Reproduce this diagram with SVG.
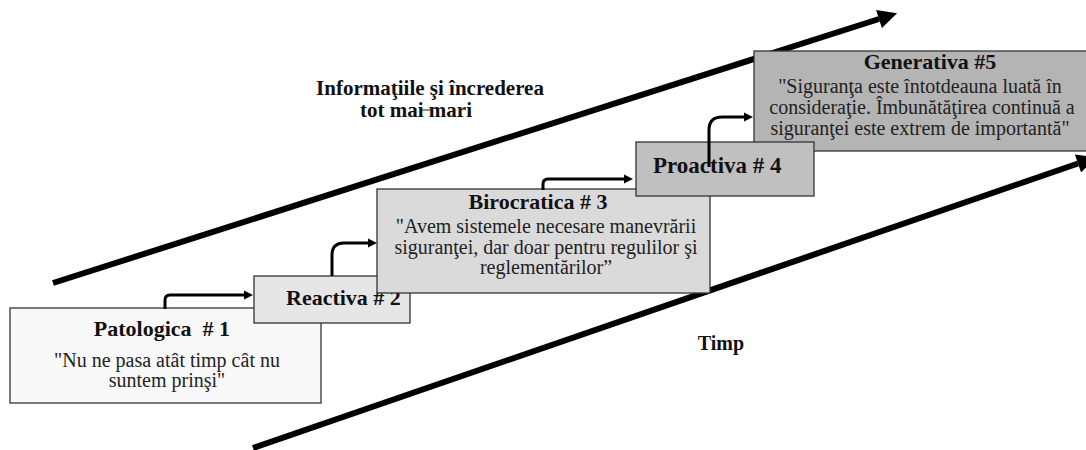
<svg xmlns="http://www.w3.org/2000/svg" width="1086" height="450" viewBox="0 0 1086 450">
<style>
.box{stroke:#333;stroke-width:1.3}
.t{font-family:"Liberation Serif","Times New Roman",serif;font-weight:bold;font-size:22px;fill:#111}
.q{font-family:"Liberation Serif","Times New Roman",serif;font-size:20px;fill:#222;text-anchor:middle}
.lbl{font-family:"Liberation Serif","Times New Roman",serif;font-weight:bold;font-size:21px;fill:#111;text-anchor:middle}
.axis{stroke:#000;stroke-width:6;fill:none}
.conn{stroke:#000;stroke-width:3;fill:none}
</style>
<defs>
<marker id="bigHead" viewBox="0 0 10 10" refX="0" refY="5" markerUnits="userSpaceOnUse" markerWidth="20" markerHeight="19" orient="auto">
<path d="M0,0 L10,5 L0,10 z" fill="#000"/>
</marker>
<marker id="smallHead" viewBox="0 0 10 10" refX="0" refY="5" markerUnits="userSpaceOnUse" markerWidth="9" markerHeight="11" orient="auto">
<path d="M0,0 L10,5 L0,10 z" fill="#000"/>
</marker>
</defs>
<rect width="1086" height="450" fill="#fff"/>
<g id="axes">
<path class="axis" d="M53,283 L879,19" marker-end="url(#bigHead)"/>
<path class="axis" d="M253,448 L1078,163.5" marker-end="url(#bigHead)"/>
</g>
<g id="axis-labels">
<text class="lbl" x="430" y="95">Informaţiile şi încrederea</text>
<text class="lbl" x="416" y="117">tot mai mari</text>
<line x1="420" y1="110" x2="433" y2="110" stroke="#222" stroke-width="1"/>
<text class="lbl" x="721" y="350" style="font-size:20px">Timp</text>
</g>
<g id="node-patologica">
<rect class="box" x="10" y="308" width="311" height="95" fill="#f8f8f8"/>
<text class="t" x="162" y="336" text-anchor="middle" xml:space="preserve">Patologica  # 1</text>
<text class="q" x="167" y="367">"Nu ne pasa atât timp cât nu</text>
<text class="q" x="167" y="387">suntem prinşi"</text>
</g>
<g id="node-reactiva">
<rect class="box" x="254" y="276" width="156" height="47" fill="#e6e6e6"/>
<text class="t" x="286" y="305">Reactiva # 2</text>
</g>
<g id="node-birocratica">
<rect class="box" x="377" y="189" width="333" height="104" fill="#dadada"/>
<text class="t" x="538" y="209" text-anchor="middle">Birocratica # 3</text>
<text class="q" x="546" y="233">"Avem sistemele necesare manevrării</text>
<text class="q" x="546" y="254">siguranţei, dar doar pentru regulilor şi</text>
<text class="q" x="546" y="274">reglementărilor”</text>
</g>
<g id="node-generativa">
<rect class="box" x="754" y="51" width="340" height="100" fill="#b4b4b4"/>
<text class="t" x="930" y="69" text-anchor="middle">Generativa #5</text>
<text class="q" x="920" y="93">"Siguranţa este întotdeauna luată în</text>
<text class="q" x="922" y="114">consideraţie. Îmbunătăţirea continuă a</text>
<text class="q" x="920" y="135">siguranţei este extrem de importantă"</text>
</g>
<g id="node-proactiva">
<rect class="box" x="636" y="142" width="178" height="54" fill="#c0c0c0"/>
<text class="t" x="653" y="173" style="font-size:23px">Proactiva # 4</text>
</g>
<g id="connectors">
<path class="conn" d="M165,309 V300 Q165,295 170,295 H244" marker-end="url(#smallHead)"/>
<path class="conn" d="M332,276 V255 Q332,243 344,243 H368" marker-end="url(#smallHead)"/>
<path class="conn" d="M543,190 V184 Q543,179 548,179 H624" marker-end="url(#smallHead)"/>
<path class="conn" d="M709,167 V130 Q709,117 722,117 H744" marker-end="url(#smallHead)"/>
</g>
</svg>
